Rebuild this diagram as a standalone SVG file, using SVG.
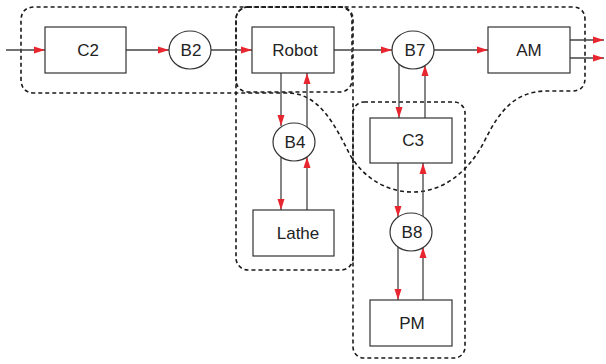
<svg xmlns="http://www.w3.org/2000/svg" width="606" height="364" viewBox="0 0 606 364">
<defs>
<marker id="ah" markerWidth="11" markerHeight="8" refX="11" refY="4" orient="auto" markerUnits="userSpaceOnUse">
<path d="M0,0.5 L11,4 L0,7.5 Z" fill="#e8262f"/>
</marker>
<style>
.box{fill:#fff;stroke:#333;stroke-width:1.2}
.lbl{font-family:"Liberation Sans",Arial,sans-serif;font-size:17px;fill:#222;text-anchor:middle}
.c{fill:none;stroke:#444;stroke-width:1.3;marker-end:url(#ah)}
.reg{fill:none;stroke:#1a1a1a;stroke-width:1.6;stroke-dasharray:4 3}
</style>
</defs>
<rect width="606" height="364" fill="#fff"/>
<g id="regions">
<path class="reg" d="M290,93 C320,95 335,125 350,155 C365,180 390,193 415,192 C445,191 470,170 485,140 C500,110 515,92 545,91 H572 Q585,91 585,78 V20 Q585,7 572,7 H35 Q21,7 21,21 V79 Q21,93 35,93 Z"/>
<rect class="reg" x="236" y="7" width="116" height="85" rx="12"/>
<rect class="reg" x="236" y="7" width="117" height="263" rx="12"/>
<rect class="reg" x="353" y="102" width="112" height="256" rx="11"/>
</g>
<g id="connectors">
<line class="c" x1="6" y1="50" x2="45" y2="50"/>
<line class="c" x1="126" y1="50" x2="169" y2="50"/>
<line class="c" x1="211" y1="50" x2="252" y2="50"/>
<line class="c" x1="334" y1="50" x2="392" y2="50"/>
<line class="c" x1="434" y1="50" x2="488" y2="50"/>
<line class="c" x1="570" y1="40" x2="604" y2="40"/>
<line class="c" x1="570" y1="58" x2="604" y2="58"/>
<line class="c" x1="281" y1="73" x2="281" y2="126"/>
<line class="c" x1="307" y1="128" x2="307" y2="73"/>
<line class="c" x1="281" y1="157" x2="281" y2="210"/>
<line class="c" x1="307" y1="210" x2="307" y2="157"/>
<line class="c" x1="399" y1="64" x2="399" y2="118"/>
<line class="c" x1="425" y1="118" x2="425" y2="65"/>
<line class="c" x1="398" y1="163" x2="398" y2="217"/>
<line class="c" x1="423" y1="217" x2="423" y2="163"/>
<line class="c" x1="398" y1="247" x2="398" y2="300"/>
<line class="c" x1="423" y1="300" x2="423" y2="247"/>
</g>
<g id="C2"><rect class="box" x="45" y="27" width="81" height="46"/><text class="lbl" x="88" y="56">C2</text></g>
<g id="B2"><ellipse class="box" cx="190" cy="50" rx="21" ry="19"/><text class="lbl" x="191" y="56">B2</text></g>
<g id="Robot"><rect class="box" x="252" y="27" width="82" height="46"/><text class="lbl" x="295" y="56">Robot</text></g>
<g id="B7"><ellipse class="box" cx="413" cy="50" rx="21" ry="19"/><text class="lbl" x="415" y="56">B7</text></g>
<g id="AM"><rect class="box" x="488" y="27" width="82" height="46"/><text class="lbl" x="529" y="56">AM</text></g>
<g id="B4"><ellipse class="box" cx="294" cy="142" rx="21" ry="19"/><text class="lbl" x="295" y="148">B4</text></g>
<g id="Lathe"><rect class="box" x="253" y="210" width="81" height="46"/><text class="lbl" x="298" y="239">Lathe</text></g>
<g id="C3"><rect class="box" x="370" y="118" width="82" height="45"/><text class="lbl" x="413" y="146">C3</text></g>
<g id="B8"><ellipse class="box" cx="411" cy="232" rx="21" ry="19"/><text class="lbl" x="412" y="238">B8</text></g>
<g id="PM"><rect class="box" x="370" y="300" width="82" height="46"/><text class="lbl" x="412" y="329">PM</text></g>
</svg>
